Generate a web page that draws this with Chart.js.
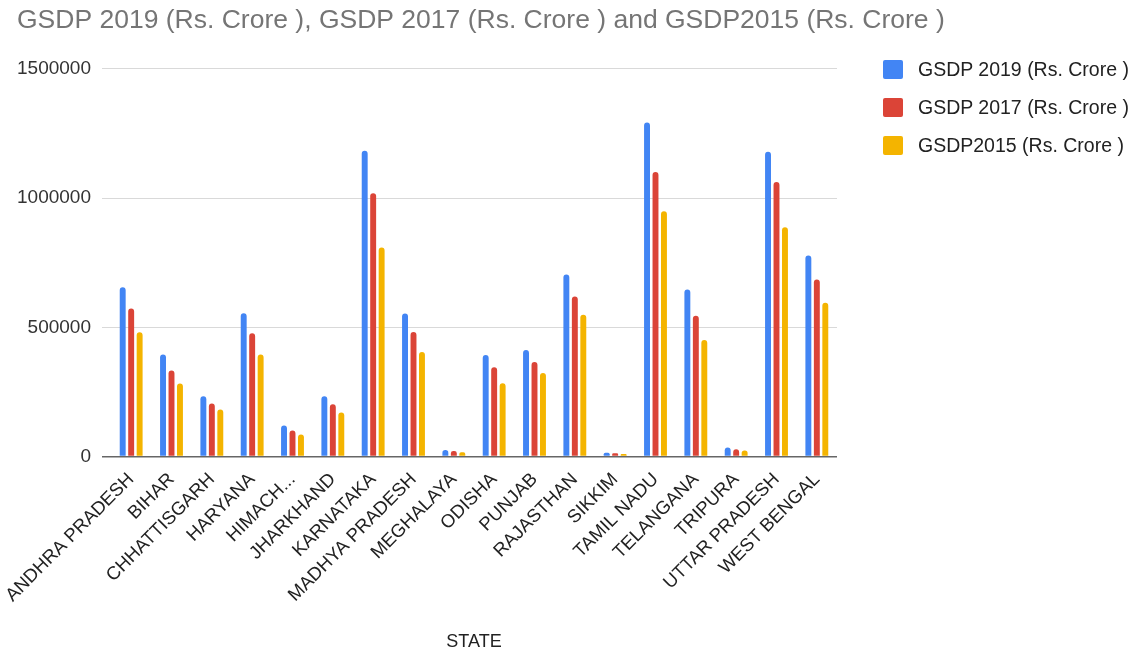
<!DOCTYPE html>
<html>
<head>
<meta charset="utf-8">
<script src="https://cdn.jsdelivr.net/npm/chart.js@4/dist/chart.umd.min.js"></script>
<style>
  html, body { margin: 0; padding: 0; background: #ffffff; }
  #wrap { position: relative; width: 1134px; height: 653px; }
  #legend { position: absolute; left: 883px; top: 59px; font-family: "Liberation Sans", Arial, sans-serif; font-size: 19.5px; color: #222; }
  .item { display: flex; align-items: center; height: 20px; margin-bottom: 18px; white-space: nowrap; }
  .swatch { width: 20px; height: 19px; border-radius: 2px; margin-right: 15px; flex: none; }
</style>
</head>
<body>
<div id="wrap">
  <canvas id="chart" width="1134" height="653"></canvas>
  <div id="legend"></div>
</div>
<script>
// State-wise GSDP, in Rs. Crore
const states = ["ANDHRA PRADESH", "BIHAR", "CHHATTISGARH", "HARYANA", "HIMACH...", "JHARKHAND",
  "KARNATAKA", "MADHYA PRADESH", "MEGHALAYA", "ODISHA", "PUNJAB", "RAJASTHAN", "SIKKIM",
  "TAMIL NADU", "TELANGANA", "TRIPURA", "UTTAR PRADESH", "WEST BENGAL"];

const gsdp2019 = [655000, 395000, 233000, 554000, 120000, 233000, 1183000, 553000, 25000,
  393000, 412000, 704000, 15000, 1292000, 646000, 35000, 1179000, 778000];
const gsdp2017 = [573000, 333000, 205000, 477000, 101000, 202000, 1019000, 482000, 22000,
  346000, 366000, 619000, 13000, 1101000, 545000, 28000, 1062000, 685000];
const gsdp2015 = [481000, 283000, 182000, 395000, 85000, 171000, 809000, 405000, 17000,
  284000, 323000, 549000, 10000, 949000, 451000, 24000, 887000, 595000];

const seriesNames = ["GSDP 2019 (Rs. Crore )", "GSDP 2017 (Rs. Crore )", "GSDP2015 (Rs. Crore )"];
const seriesColors = ["#4285F4", "#DB4437", "#F4B400"];
const yTicks = [0, 500000, 1000000, 1500000];

const FONT = "'Liberation Sans', Arial, sans-serif";

const datasets = [gsdp2019, gsdp2017, gsdp2015].map((values, i) => ({
  label: seriesNames[i],
  data: values,
  backgroundColor: seriesColors[i],
  borderRadius: 3,
  categoryPercentage: 0.63,
  barPercentage: 0.7,
  yAxisID: "y"
}));

const chart = new Chart(document.getElementById("chart"), {
  type: "bar",
  data: { labels: states, datasets },
  options: {
    responsive: false,
    animation: false,
    devicePixelRatio: 1,
    layout: { padding: { left: 17, right: 4, top: 0, bottom: 0 } },
    plugins: {
      legend: { display: false },
      tooltip: { enabled: false },
      title: {
        display: true,
        text: "GSDP 2019 (Rs. Crore ), GSDP 2017 (Rs. Crore ) and GSDP2015 (Rs. Crore )",
        align: "start",
        color: "#757575",
        font: { family: FONT, size: 26.5, weight: "normal" },
        padding: { top: 5, bottom: 32 }
      }
    },
    scales: {
      x: {
        grid: { display: false },
        border: { display: false },
        // rotated labels may run into the left margin
        afterFit: (scale) => { scale.paddingLeft = Math.min(scale.paddingLeft, 60); },
        ticks: {
          autoSkip: false,
          minRotation: 45,
          maxRotation: 45,
          color: "#222",
          font: { family: FONT, size: 18.5 },
          padding: 4
        },
        title: {
          display: true,
          text: "STATE",
          color: "#222",
          font: { family: FONT, size: 18 },
          padding: { top: 21, bottom: 0 }
        }
      },
      y: {
        min: 0,
        max: 1500000,
        afterBuildTicks: (scale) => { scale.ticks = yTicks.map(v => ({ value: v })); },
        afterFit: (scale) => { scale.width = 94; },
        border: { display: false },
        grid: {
          color: (ctx) => (ctx.tick && ctx.tick.value === 0 ? "#666" : "#d9d9d9"),
          lineWidth: (ctx) => (ctx.tick && ctx.tick.value === 0 ? 1.5 : 1),
          tickLength: 9
        },
        ticks: {
          color: "#333",
          font: { family: FONT, size: 19 },
          padding: 11,
          callback: (v) => String(v)
        }
      },
      // empty right-hand axis that reserves room for the legend column
      legendSpace: {
        position: "right",
        min: 0,
        max: 1,
        grid: { display: false },
        border: { display: false },
        ticks: { display: false },
        afterFit: (scale) => { scale.width = 293; }
      }
    }
  }
});

// Legend built from the chart's own datasets
const legend = document.getElementById("legend");
chart.data.datasets.forEach(ds => {
  const row = document.createElement("div");
  row.className = "item";
  const sw = document.createElement("span");
  sw.className = "swatch";
  sw.style.background = ds.backgroundColor;
  const txt = document.createElement("span");
  txt.textContent = ds.label;
  row.appendChild(sw);
  row.appendChild(txt);
  legend.appendChild(row);
});
</script>
</body>
</html>
